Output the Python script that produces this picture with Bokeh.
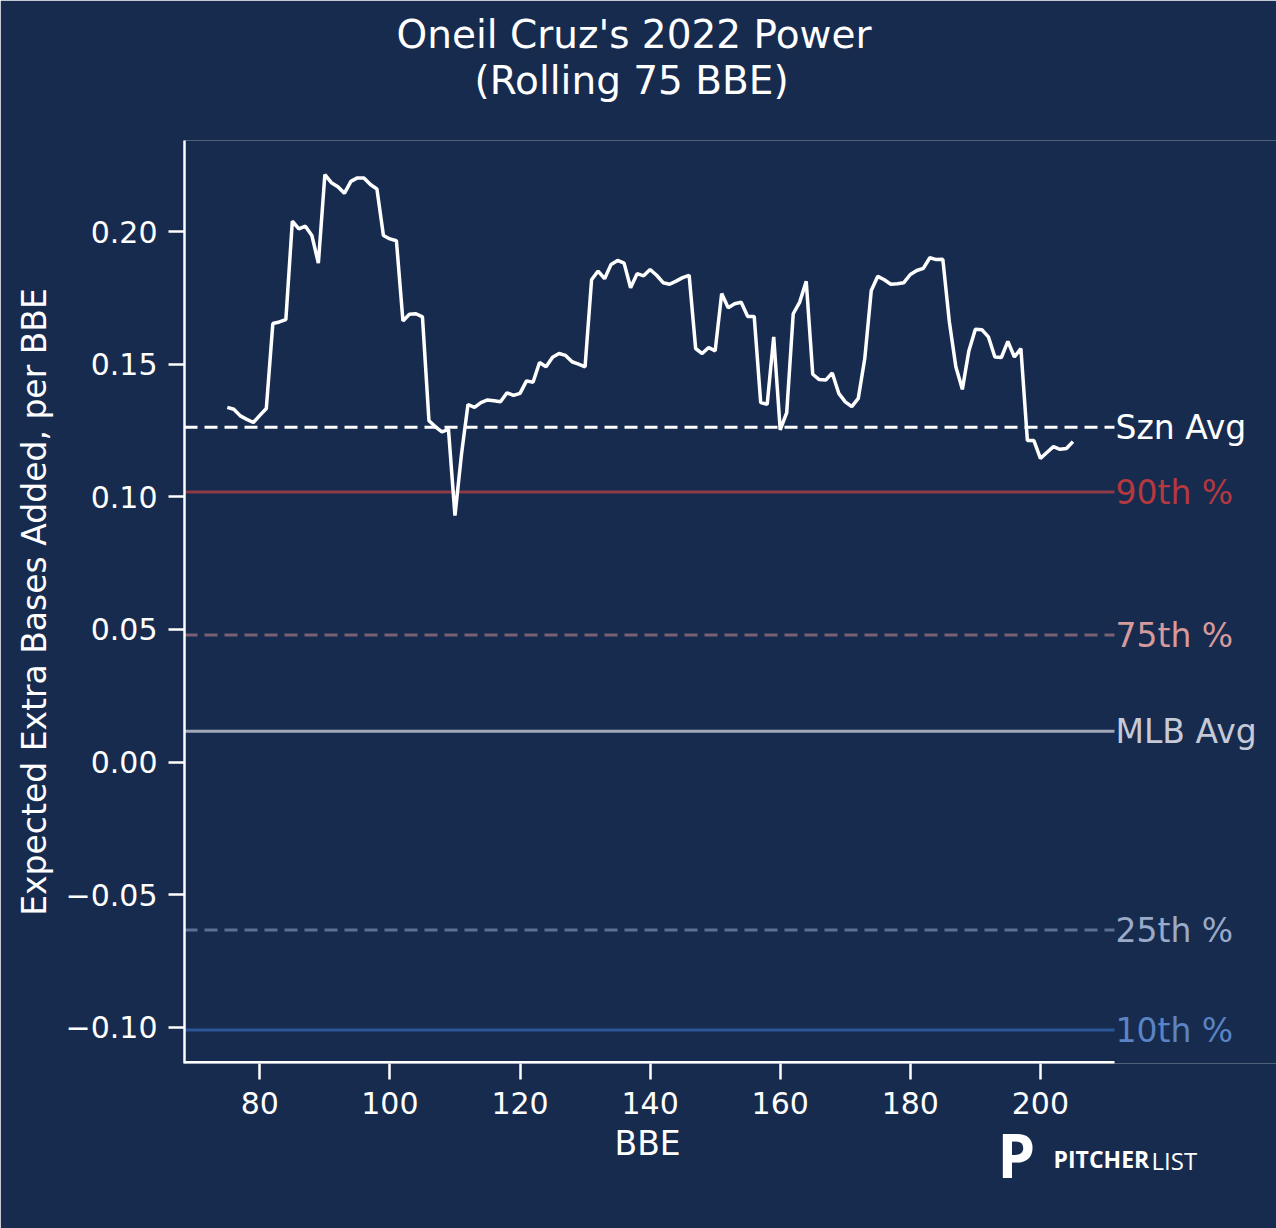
from bokeh.plotting import figure
from bokeh.models import Range1d, Label, FixedTicker, Title
from bokeh.embed import file_html
from bokeh.resources import INLINE

# ---------------- data ----------------
bbe = list(range(75, 206))
power = [
    0.1337, 0.1330, 0.1305, 0.1292, 0.1280, 0.1307, 0.1333, 0.1653, 0.1659, 0.1668,
    0.2039, 0.2010, 0.2020, 0.1985, 0.1881, 0.2214, 0.2184, 0.2169, 0.2144, 0.2189,
    0.2202, 0.2202, 0.2177, 0.2160, 0.1985, 0.1972, 0.1965, 0.1663, 0.1688, 0.1690,
    0.1678, 0.1287, 0.1264, 0.1245, 0.1254, 0.0929, 0.1160, 0.1348, 0.1337, 0.1355,
    0.1365, 0.1362, 0.1358, 0.1392, 0.1382, 0.1390, 0.1437, 0.1432, 0.1506, 0.1490,
    0.1526, 0.1540, 0.1533, 0.1509, 0.1500, 0.1490, 0.1818, 0.1851, 0.1822, 0.1876,
    0.1891, 0.1881, 0.1788, 0.1841, 0.1833, 0.1857, 0.1835, 0.1807, 0.1801, 0.1813,
    0.1826, 0.1835, 0.1559, 0.1540, 0.1563, 0.1550, 0.1766, 0.1713, 0.1728, 0.1733,
    0.1680, 0.1680, 0.1355, 0.1349, 0.1603, 0.1252, 0.1317, 0.1690, 0.1734, 0.1812,
    0.1462, 0.1442, 0.1440, 0.1467, 0.1390, 0.1358, 0.1340, 0.1371, 0.1521, 0.1778,
    0.1831, 0.1818, 0.1801, 0.1803, 0.1807, 0.1838, 0.1853, 0.1861, 0.1901, 0.1894,
    0.1895, 0.1660, 0.1490, 0.1405, 0.1550, 0.1632, 0.1630, 0.1603, 0.1527, 0.1525,
    0.1586, 0.1527, 0.1559, 0.1212, 0.1212, 0.1145, 0.1167, 0.1189, 0.1179, 0.1182,
    0.1208,
]

ref_names = ["Szn Avg", "90th %", "75th %", "MLB Avg", "25th %", "10th %"]
ref_values = [0.1262, 0.1018, 0.0479, 0.0116, -0.0633, -0.1010]
ref_line_colors = ["#ffffff", "#8e3a47", "#7a6173", "#a3a9b8", "#5b7196", "#2b5797"]
ref_text_colors = ["#ffffff", "#b4393f", "#d69a9c", "#c5cad6", "#9aabc9", "#5a84c4"]
ref_dashes = ["13 7", "solid", "13 7", "solid", "13 7", "solid"]

x_ticks = [80, 100, 120, 140, 160, 180, 200]
y_ticks = [-0.10, -0.05, 0.00, 0.05, 0.10, 0.15, 0.20]
y_tick_labels = ["\u22120.10", "\u22120.05", "0.00", "0.05", "0.10", "0.15", "0.20"]

title_lines = ["Oneil Cruz's 2022 Power", "(Rolling 75 BBE)"]
x_label = "BBE"
y_label = "Expected Extra Bases Added, per BBE"

# ---------------- layout ----------------
BG = "#172b4f"
W, H = 1276, 1228
FL, FR, FT, FB = 184, 1114, 140, 1063  # axes box in pixels
X0, X1 = 68.42, 211.39                 # axes limits
Y0, Y1 = -0.1136, 0.2343
FONT = "DejaVu Sans"


def dx(px):
    return X0 + (px - FL) / (FR - FL) * (X1 - X0)


# frame extends to the right edge so the line labels can sit inside it
p = figure(
    width=W, height=H, title=None,
    x_range=Range1d(X0, dx(W)), y_range=Range1d(Y0, Y1),
    output_backend="svg", toolbar_location=None,
    min_border_left=FL, min_border_right=0,
    min_border_top=FT, min_border_bottom=H - FB,
)
p.background_fill_color = BG
p.border_fill_color = BG
p.outline_line_color = None
p.xgrid.visible = False
p.ygrid.visible = False

for ax in (p.xaxis[0], p.yaxis[0]):
    ax.axis_line_color = "white"
    ax.axis_line_width = 2.5
    ax.major_tick_line_color = "white"
    ax.major_tick_line_width = 2.5
    ax.major_tick_out = 16
    ax.major_tick_in = 0
    ax.minor_tick_line_color = None
    ax.major_label_text_color = "white"
    ax.major_label_text_font = FONT
    ax.major_label_text_font_size = "30px"
    ax.axis_label_text_color = "white"
    ax.axis_label_text_font = FONT
    ax.axis_label_text_font_size = "33px"
    ax.axis_label_text_font_style = "normal"

p.xaxis.axis_line_color = None
p.xaxis.ticker = FixedTicker(ticks=x_ticks)
p.yaxis.ticker = FixedTicker(ticks=y_ticks)
p.yaxis.major_label_overrides = {t: l for t, l in zip(y_ticks, y_tick_labels)}
p.yaxis.axis_label = y_label
p.xaxis.major_label_standoff = 12
p.yaxis.major_label_standoff = 11
p.yaxis.axis_label_standoff = 9

# bottom spine limited to the axes limits (half of it is clipped by the frame)
p.line([X0, X1], [Y0, Y0], line_color="white", line_width=5)

# reference lines + their labels
for name, v, lc, tc, dash in zip(ref_names, ref_values, ref_line_colors, ref_text_colors, ref_dashes):
    p.line([X0, X1], [v, v], line_color=lc, line_width=3, line_dash=dash)
    p.add_layout(Label(x=dx(1115), y=v, text=name, text_color=tc, text_font=FONT,
                       text_font_size="33px", text_baseline="middle", text_align="left"))

# rolling line
p.line(bbe, power, line_color="white", line_width=3.5)

# title (two lines above the frame)
p.add_layout(Title(text=title_lines[1], align="left", offset=290, vertical_align="bottom",
                   text_color="white", text_font=FONT, text_font_size="39px",
                   text_font_style="normal", standoff=76), "above")
p.add_layout(Title(text=title_lines[0], align="left", offset=212, vertical_align="bottom",
                   text_color="white", text_font=FONT, text_font_size="39px",
                   text_font_style="normal", standoff=-78), "above")

# x axis label and logo (below the axis)
p.add_layout(Title(text=x_label, align="left", offset=430, vertical_align="top",
                   text_color="white", text_font=FONT, text_font_size="33px",
                   text_font_style="normal", standoff=15), "below")
p.add_layout(Title(text="P", align="left", offset=813, vertical_align="top",
                   text_color="white", text_font="Open Sans", text_font_size="60px",
                   text_font_style="bold", standoff=-117), "below")
p.add_layout(Title(text="PITCHER", align="left", offset=869, vertical_align="top",
                   text_color="white", text_font="Open Sans", text_font_size="23px",
                   text_font_style="bold", standoff=-59), "below")
p.add_layout(Title(text="LIST", align="left", offset=967, vertical_align="top",
                   text_color="white", text_font="Open Sans", text_font_size="24px",
                   text_font_style="normal", standoff=-58), "below")

open("out.html", "w").write(file_html(p, INLINE))
